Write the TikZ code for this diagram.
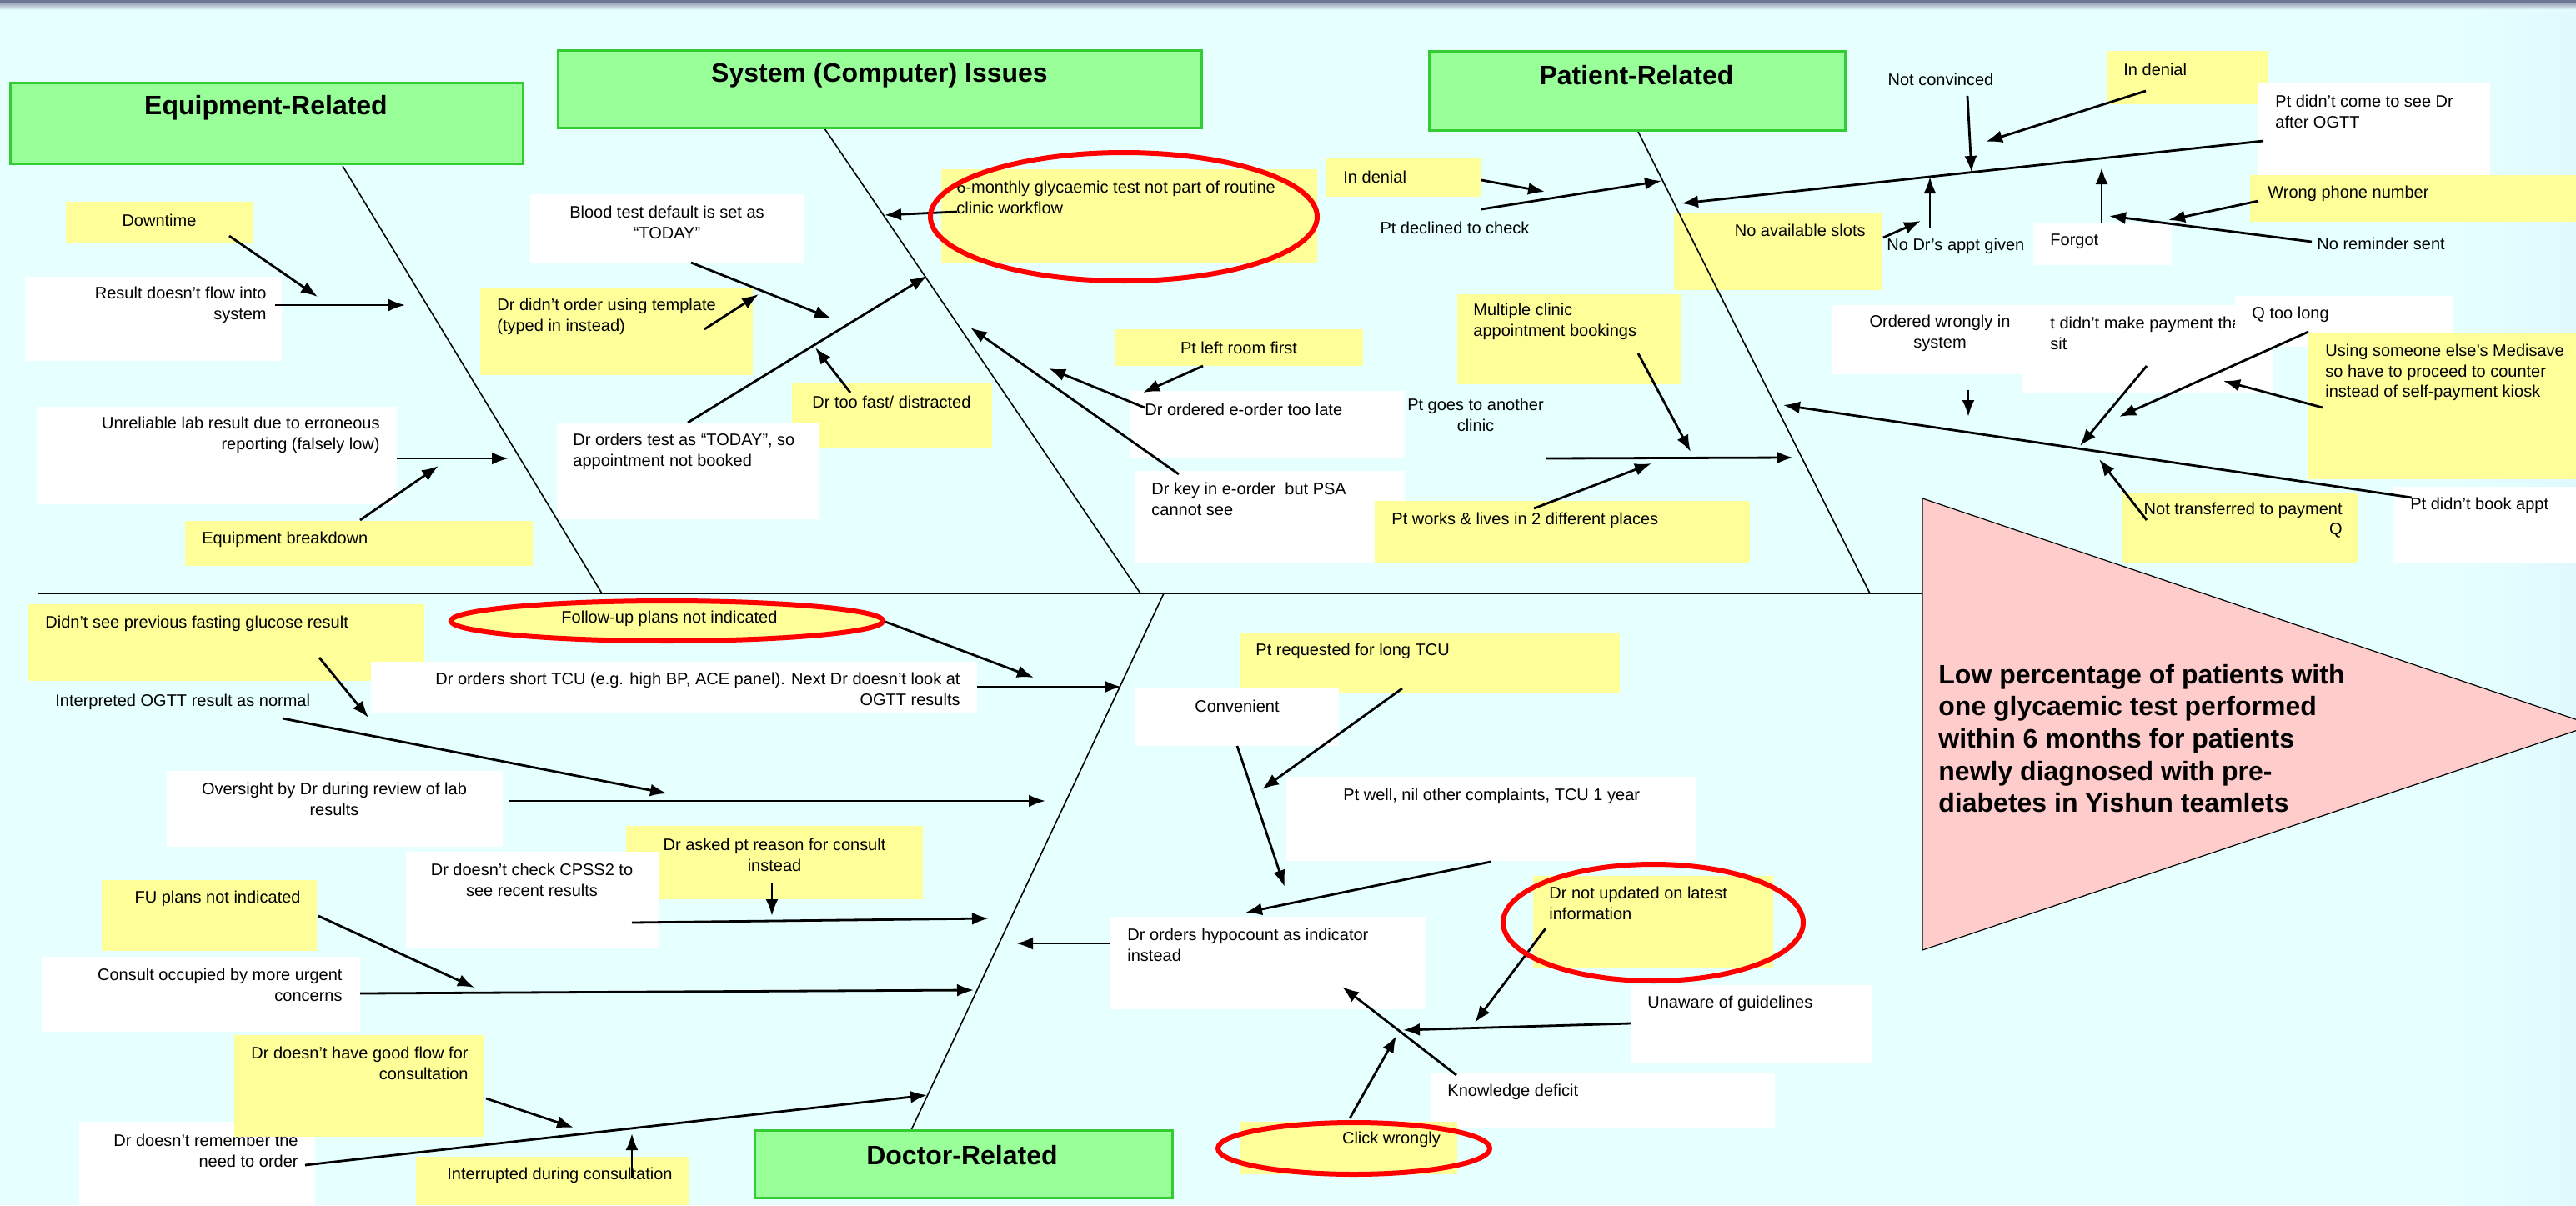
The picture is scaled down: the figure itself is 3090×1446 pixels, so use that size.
\documentclass[tikz,border=0pt]{standalone}
\usepackage{fontspec}
\setmainfont{Liberation Sans}
\usetikzlibrary{arrows.meta,fit,shapes.geometric}
\definecolor{bgc}{RGB}{230,255,255}
\definecolor{bgr}{RGB}{224,249,253}
\definecolor{topc}{RGB}{110,118,150}
\definecolor{yelc}{RGB}{255,255,153}
\definecolor{grnfill}{RGB}{153,255,153}
\definecolor{grnline}{RGB}{51,204,51}
\definecolor{pinkc}{RGB}{255,204,204}
\definecolor{redc}{RGB}{255,0,0}
\begin{document}
\begin{tikzpicture}[x=0.5pt,y=-0.5pt,
  yb/.style={fill=yelc,draw=none,inner sep=0pt,outer sep=0pt},
  wb/.style={fill=white,draw=none,inner sep=0pt,outer sep=0pt},
  lbl/.style={inner sep=0pt,font=\fontsize{10}{12.2}\selectfont,text=black},
  arr/.style={line width=1.4pt,-{Latex[length=10pt,width=7.5pt]}},
  bone/.style={line width=0.8pt},
  ell/.style={draw=redc,line width=3pt,ellipse,inner sep=0pt},
  cat/.style={fill=grnfill,draw=grnline,line width=1.5pt,inner sep=0pt},
  cattxt/.style={font=\fontsize{16}{19}\selectfont\bfseries,inner sep=0pt}]
\useasboundingbox (0,0) rectangle (3090,1446);
\clip (0,0) rectangle (3090,1446);
\fill[bgc] (0,0) rectangle (3090,1446);
\shade[left color=bgc,right color=bgr] (2940,0) rectangle (3090,1446);
\fill[topc] (0,0) rectangle (3090,3);
\shade[top color=topc!70,bottom color=bgc] (0,3) rectangle (3090,12);

% ---------------- Equipment ----------------
\node[yb,fit={(79,242)(304,292)}] (dtb) {};
\node[lbl] (dt) at (191,264) {Downtime};
\node[wb,fit={(30,332)(338,433)}] (rfb) {};
\node[lbl,align=right,anchor=east] (rf) at (320,366) {Result doesn’t flow into\\system};
\node[wb,fit={(44,488)(476,605)}] (ulb) {};
\node[lbl,align=right,anchor=east] (ul) at (456,522) {Unreliable lab result due to erroneous\\reporting (falsely low)};
\node[yb,fit={(222,625)(639,679)}] (ebb) {};
\node[lbl,anchor=west] (eb) at (242,647) {Equipment breakdown};

% ---------------- System ----------------
\node[wb,fit={(636,233)(964,316)}] (btb) {};
\node[lbl,align=center] (bt) at (800,267) {Blood test default is set as\\“TODAY”};
\node[yb,fit={(576,345)(903,450)}] (ddb) {};
\node[lbl,align=left,anchor=west] (dd) at (596,380) {Dr didn’t order using template\\(typed in instead)};
\node[yb,fit={(950,460)(1190,537)}] (tfb) {};
\node[lbl,anchor=west] (tf) at (974,482) {Dr too fast/ distracted};
\node[wb,fit={(668,507)(982,623)}] (otb) {};
\node[lbl,align=left,anchor=west] (ot) at (687,542) {Dr orders test as “TODAY”, so\\appointment not booked};
\node[yb,fit={(1129,203)(1580,315)}] (smb) {};
\node[lbl,align=left,anchor=west] (sm) at (1147,237) {6-monthly glycaemic test not part of routine\\clinic workflow};
\node[yb,fit={(1338,395)(1635,439)}] (plb) {};
\node[lbl] (pl) at (1486,417) {Pt left room first};
\node[wb,fit={(1355,469)(1685,549)}] (eob) {};
\node[lbl,anchor=west] (eo) at (1373,491) {Dr ordered e-order too late};
\node[wb,fit={(1362,565)(1685,676)}] (keb) {};
\node[lbl,align=left,anchor=west] (ke) at (1381,599) {Dr key in e-order \ but PSA\\cannot see};

% ---------------- Patient ----------------
\node[yb,fit={(1591,189)(1777,236)}] (id1b) {};
\node[lbl,anchor=west] (id1) at (1611,212) {In denial};
\node[lbl] (pdc) at (1745,273) {Pt declined to check};
\node[yb,fit={(1748,353)(2016,461)}] (mcb) {};
\node[lbl,align=left,anchor=west] (mc) at (1767,386) {Multiple clinic\\appointment bookings};
\node[lbl,align=center] (pg) at (1770,498) {Pt goes to another\\clinic};
\node[yb,fit={(1649,601)(2099,676)}] (pwb) {};
\node[lbl,anchor=west] (pw) at (1669,624) {Pt works \& lives in 2 different places};
\node[yb,fit={(2008,255)(2257,348)}] (nab) {};
\node[lbl,anchor=east] (na) at (2238,276) {No available slots};
\node[lbl,anchor=west] (nd) at (2263,295) {No Dr’s appt given};
\node[lbl] (nc) at (2328,95) {Not convinced};
\node[yb,fit={(2528,61)(2720,125)}] (id2b) {};
\node[lbl,anchor=west] (id2) at (2547,83) {In denial};
\node[wb,fit={(2709,100)(2987,210)}] (pdb) {};
\node[lbl,align=left,anchor=west] (pd) at (2729,134) {Pt didn’t come to see Dr\\after OGTT};
\node[wb,fit={(2439,268)(2605,318)}] (fgb) {};
\node[lbl,anchor=west] (fg) at (2459,290) {Forgot};
\node[yb,fit={(2699,210)(3090,266)}] (wpb) {};
\node[lbl,anchor=west] (wp) at (2720,232) {Wrong phone number};
\node[lbl,anchor=west] (nr) at (2779,292) {No reminder sent};
\node[wb,fit={(2198,366)(2426,449)}] (owb) {};
\node[lbl,align=center] (ow) at (2327,400) {Ordered wrongly in\\system};
\node[wb,fit={(2426,366)(2726,471)}] (pmb) {};
\node[lbl,align=left,anchor=west] (pm) at (2459,400) {t didn’t make payment tha\\sit};
\node[wb,fit={(2681,355)(2943,416)}] (qlb) {};
\node[lbl,anchor=west] (ql) at (2701,377) {Q too long};
\node[yb,fit={(2769,400)(3090,575)}] (usb) {};
\node[lbl,align=left,anchor=west] (us) at (2789,447) {Using someone else’s Medisave\\so have to proceed to counter\\instead of self-payment kiosk};
\node[yb,fit={(2546,591)(2829,676)}] (ntb) {};
\node[lbl,align=right,anchor=east] (nt) at (2810,624) {Not transferred to payment\\Q};
\node[wb,fit={(2870,584)(3090,676)}] (pbb) {};
\node[lbl,anchor=west] (pb) at (2891,606) {Pt didn’t book appt};

% ---------------- Doctor ----------------
\node[yb,fit={(34,725)(509,817)}] (dsb) {};
\node[lbl,anchor=west] (ds) at (54,748) {Didn’t see previous fasting glucose result};
\node[wb,fit={(445,794)(1172,855)}] (sob) {};
\node[lbl,align=right,anchor=east] (so) at (1152,827) {Dr orders short TCU (e.g. high BP, ACE panel). Next Dr doesn’t look at\\OGTT results};
\node[lbl,anchor=west] (io) at (66,842) {Interpreted OGTT result as normal};
\node[wb,fit={(200,925)(603,1016)}] (ovb) {};
\node[lbl,align=center] (ov) at (401,959) {Oversight by Dr during review of lab\\results};
\node[yb,fit={(751,991)(1107,1079)}] (dab) {};
\node[lbl,align=center] (da) at (929,1026) {Dr asked pt reason for consult\\instead};
\node[wb,fit={(487,1022)(790,1138)}] (dcb) {};
\node[lbl,align=center] (dc) at (638,1056) {Dr doesn’t check CPSS2 to\\see recent results};
\node[yb,fit={(122,1056)(380,1141)}] (fu2b) {};
\node[lbl,anchor=east] (fu2) at (361,1078) {FU plans not indicated};
\node[wb,fit={(50,1148)(432,1238)}] (cob) {};
\node[lbl,align=right,anchor=east] (co) at (411,1182) {Consult occupied by more urgent\\concerns};
\node[wb,fit={(95,1346)(378,1446)}] (drb) {};
\node[lbl,align=right,anchor=east] (dr) at (358,1381) {Dr doesn’t remember the\\need to order};
\node[yb,fit={(281,1242)(581,1364)}] (gfb) {};
\node[lbl,align=right,anchor=east] (gf) at (562,1276) {Dr doesn’t have good flow for\\consultation};
\node[yb,fit={(499,1388)(826,1446)}] (icb) {};
\node[lbl,anchor=west] (ic) at (536,1410) {Interrupted during consultation};
\node[yb,fit={(1487,759)(1943,831)}] (prb) {};
\node[lbl,anchor=west] (pr) at (1506,781) {Pt requested for long TCU};
\node[wb,fit={(1362,825)(1606,895)}] (cvb) {};
\node[lbl] (cv) at (1484,847) {Convenient};
\node[wb,fit={(1543,932)(2035,1033)}] (pwlb) {};
\node[lbl,anchor=west] (pwl) at (1611,955) {Pt well, nil other complaints, TCU 1 year};
\node[wb,fit={(1332,1100)(1710,1211)}] (hob) {};
\node[lbl,align=left,anchor=west] (ho) at (1352,1134) {Dr orders hypocount as indicator\\instead};
\node[yb,fit={(1839,1051)(2127,1162)}] (nub) {};
\node[lbl,align=left,anchor=west] (nu) at (1858,1084) {Dr not updated on latest\\information};
\node[wb,fit={(1956,1182)(2245,1275)}] (uab) {};
\node[lbl,anchor=west] (ua) at (1976,1204) {Unaware of guidelines};
\node[wb,fit={(1717,1288)(2129,1353)}] (kdb) {};
\node[lbl,anchor=west] (kd) at (1736,1310) {Knowledge deficit};
\node[yb,fit={(1487,1346)(1748,1409)}] (cwb) {};

% ---------------- spine and bones ----------------
\coordinate (sp0) at (45,712);
\coordinate (sp1) at (2306,712);
\coordinate (eqt) at (411,199);
\coordinate (eqs) at (722,712);
\coordinate (syt) at (989,154);
\coordinate (sys) at (1368,712);
\coordinate (pat) at (1964,156);
\coordinate (pas) at (2243,712);
\coordinate (drs) at (1396,712);
\coordinate (drt) at (1092,1358);
\draw[line width=1pt] (sp0) -- (sp1);
\draw[bone] (eqt) -- (eqs);
\draw[bone] (syt) -- (sys);
\draw[bone] (pat) -- (pas);
\draw[bone] (drs) -- (drt);

% ---------------- connectors ----------------
\path (275,283) coordinate (a1s) (381,356) coordinate (a1e)
      (330,366) coordinate (a2s) (486,366) coordinate (a2e)
      (476,550) coordinate (a3s) (610,550) coordinate (a3e)
      (432,624) coordinate (a4s) (526,559) coordinate (a4e)
      (825,507) coordinate (a5s) (1112,331) coordinate (a5e)
      (829,315) coordinate (a6s) (997,382) coordinate (a6e)
      (845,395) coordinate (a7s) (910,353) coordinate (a7e)
      (1020,471) coordinate (a8s) (978,417) coordinate (a8e)
      (1148,254) coordinate (a9s) (1061,258) coordinate (a9e)
      (1443,439) coordinate (a10s) (1371,471) coordinate (a10e)
      (1373,489) coordinate (a11s) (1258,442) coordinate (a11e)
      (1414,569) coordinate (a12s) (1164,393) coordinate (a12e)
      (1777,216) coordinate (b1s) (1853,230) coordinate (b1e)
      (1777,251) coordinate (b2s) (1993,217) coordinate (b2e)
      (1965,424) coordinate (b3s) (2028,542) coordinate (b3e)
      (1854,550) coordinate (b4s) (2151,549) coordinate (b4e)
      (1840,610) coordinate (b5s) (1981,556) coordinate (b5e)
      (2259,285) coordinate (b6s) (2304,265) coordinate (b6e)
      (2315,274) coordinate (b7s) (2315,212) coordinate (b7e)
      (2360,115) coordinate (b8s) (2365,207) coordinate (b8e)
      (2574,109) coordinate (b9s) (2382,170) coordinate (b9e)
      (2715,169) coordinate (b10s) (2017,244) coordinate (b10e)
      (2521,267) coordinate (b11s) (2521,201) coordinate (b11e)
      (2709,241) coordinate (b12s) (2601,264) coordinate (b12e)
      (2773,290) coordinate (b13s) (2530,259) coordinate (b13e)
      (2361,468) coordinate (b14s) (2361,500) coordinate (b14e)
      (2769,398) coordinate (b15s) (2542,500) coordinate (b15e)
      (2575,439) coordinate (b16s) (2495,535) coordinate (b16e)
      (2786,489) coordinate (b17s) (2667,457) coordinate (b17e)
      (2893,597) coordinate (b18s) (2139,486) coordinate (b18e)
      (2575,624) coordinate (b19s) (2518,551) coordinate (b19e)
      (383,789) coordinate (c1s) (442,861) coordinate (c1e)
      (1062,746) coordinate (c2s) (1240,813) coordinate (c2e)
      (1172,824) coordinate (c3s) (1345,824) coordinate (c3e)
      (339,862) coordinate (c4s) (800,952) coordinate (c4e)
      (611,961) coordinate (c5s) (1254,961) coordinate (c5e)
      (926,1059) coordinate (c6s) (926,1099) coordinate (c6e)
      (758,1107) coordinate (c7s) (1186,1102) coordinate (c7e)
      (382,1099) coordinate (c8s) (569,1185) coordinate (c8e)
      (432,1192) coordinate (c9s) (1168,1188) coordinate (c9e)
      (583,1318) coordinate (c10s) (688,1353) coordinate (c10e)
      (366,1398) coordinate (c11s) (1112,1314) coordinate (c11e)
      (758,1414) coordinate (c12s) (758,1360) coordinate (c12e)
      (1682,826) coordinate (d1s) (1514,947) coordinate (d1e)
      (1484,895) coordinate (d2s) (1541,1064) coordinate (d2e)
      (1788,1034) coordinate (d3s) (1494,1095) coordinate (d3e)
      (1332,1132) coordinate (d4s) (1219,1132) coordinate (d4e)
      (1854,1114) coordinate (d5s) (1769,1227) coordinate (d5e)
      (1956,1228) coordinate (d6s) (1683,1236) coordinate (d6e)
      (1747,1290) coordinate (d7s) (1610,1184) coordinate (d7e)
      (1619,1342) coordinate (d8s) (1675,1243) coordinate (d8e);
\foreach \n in {a1,a2,a3,a4,a5,a6,a7,a8,a9,a10,a11,a12,
                b1,b2,b3,b4,b5,b6,b7,b8,b9,b10,b11,b12,b13,b14,b15,b16,b17,b18,b19,
                c1,c2,c3,c4,c5,c6,c7,c8,c9,c10,c11,c12,
                d1,d2,d3,d4,d5,d6,d7,d8}
  \draw[arr] (\n s) -- (\n e);

% ---------------- red ellipses ----------------
\node[ell] (e1) at (1348,260) [minimum width=232pt,minimum height=77pt] {};
\node[ell,fill=yelc] (e2) at (800,745) [minimum width=259pt,minimum height=24pt] {};
\node[lbl] (fu) at (803,742) {Follow-up plans not indicated};
\node[ell] (e3) at (1983,1107) [minimum width=180pt,minimum height=70pt] {};
\node[ell] (e4) at (1624,1378) [minimum width=163pt,minimum height=31pt] {};
\node[lbl] (cw) at (1669,1367) {Click wrongly};

% ---------------- category boxes ----------------
\node[cat,fit={(12,99)(627,196)}] (eqb) {};
\node[cattxt] (eq) at (319,129) {Equipment-Related};
\node[cat,fit={(669,60)(1441,153)}] (syb) {};
\node[cattxt] (sy) at (1055,90) {System (Computer) Issues};
\node[cat,fit={(1714,61)(2213,156)}] (pab) {};
\node[cattxt] (pa) at (1963,90) {Patient-Related};
\node[cat,fit={(905,1356)(1406,1437)}] (drcb) {};
\node[cattxt] (drc) at (1154,1386) {Doctor-Related};

% ---------------- effect triangle ----------------
\coordinate (tr1) at (2306,598);
\coordinate (tr2) at (3110,870);
\coordinate (tr3) at (2306,1140);
\filldraw[fill=pinkc,draw=black,line width=0.6pt] (tr1) -- (tr2) -- (tr3) -- cycle;
\node[inner sep=0pt,font=\fontsize{16}{19.3}\selectfont\bfseries,align=left,anchor=west] (eff) at (2325,886)
  {Low percentage of patients with\\one glycaemic test performed\\within 6 months for patients\\newly diagnosed with pre-\\diabetes in Yishun teamlets};
\end{tikzpicture}
\end{document}
